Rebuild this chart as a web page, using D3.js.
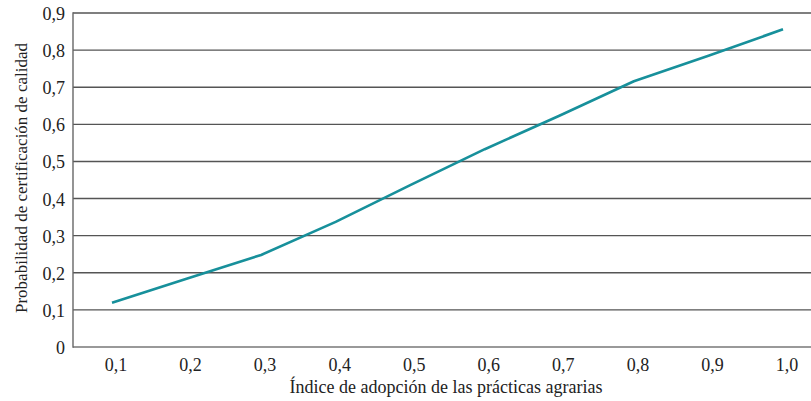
<!DOCTYPE html>
<html><head><meta charset="utf-8">
<script src="https://cdn.jsdelivr.net/npm/d3@7"></script>
<style>body{margin:0;background:#fff}</style>
</head><body><svg id="c" width="811" height="401"></svg>
<script>
const xValues = [0.1,0.2,0.3,0.4,0.5,0.6,0.7,0.8,0.9,1.0];
const probValues = [0.119,0.184,0.248,0.337,0.436,0.533,0.623,0.716,0.785,0.856];
const yTicks = [0,0.1,0.2,0.3,0.4,0.5,0.6,0.7,0.8,0.9];
const xTicks = [0.1,0.2,0.3,0.4,0.5,0.6,0.7,0.8,0.9,1.0];
const xTitle = "Índice de adopción de las prácticas agrarias";
const yTitle = "Probabilidad de certificación de calidad";

(function(){
const svg = d3.select("#c").attr("font-family", "'Liberation Serif', 'DejaVu Serif', 'Times New Roman', serif").attr("fill", "#222");
const mL = 73, mR = 811, mT = 13, mB = 347;
const x = d3.scaleLinear().domain([0.1,1.0]).range([112,783]);
const y = d3.scaleLinear().domain([0,0.9]).range([mB, mT]);
const fmt = d => d===0 ? "0" : d3.format(".1f")(d).replace(".", ",");

svg.append("g").selectAll("line").data(yTicks).join("line")
  .attr("x1", mL).attr("x2", mR)
  .attr("y1", d=>y(d)).attr("y2", d=>y(d))
  .attr("stroke", d=> d===0 ? "#777" : "#555").attr("stroke-width", 1.4);
svg.append("line").attr("x1", mL).attr("x2", mL).attr("y1", mT-0.7).attr("y2", mB+0.7)
  .attr("stroke", "#666").attr("stroke-width", 1.4);

svg.append("g").selectAll("text").data(yTicks).join("text")
  .attr("x", 65).attr("y", d=>y(d)+7).attr("text-anchor","end")
  .attr("font-size", 18).text(fmt);
svg.append("g").selectAll("text").data(xTicks).join("text")
  .attr("x", d=>x(d)+4).attr("y", 371).attr("text-anchor","middle")
  .attr("font-size", 18).text(fmt);

svg.append("text").attr("x", 446).attr("y", 393).attr("text-anchor","middle")
  .attr("font-size", 18).text(xTitle);
svg.append("text").attr("transform", "translate(27,178) rotate(-90)").attr("text-anchor","middle")
  .attr("font-size", 17).text(yTitle);

svg.append("path").datum(xValues.map((v,i)=>[v,probValues[i]]))
  .attr("d", d3.line().x(d=>x(d[0])).y(d=>y(d[1])))
  .attr("fill","none").attr("stroke","#17909b").attr("stroke-width",2.6).attr("stroke-linejoin","round");
})();
</script></body></html>
